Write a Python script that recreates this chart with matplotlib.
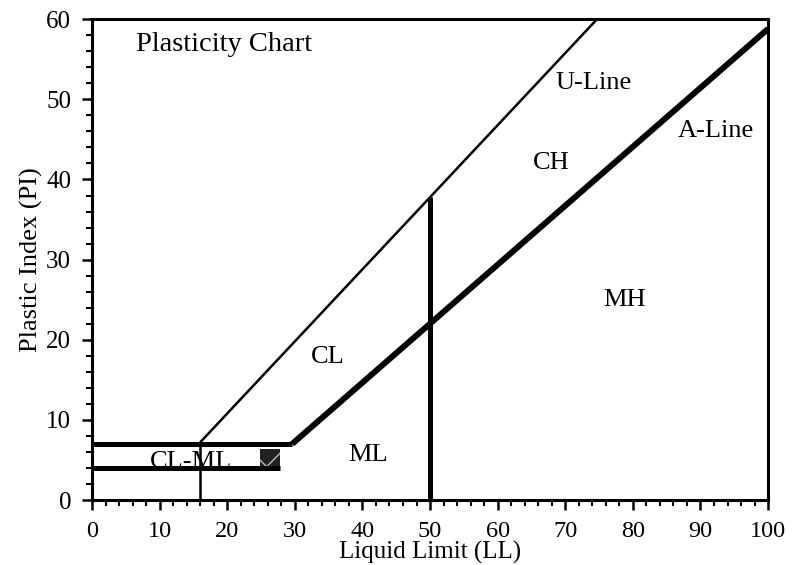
import matplotlib
matplotlib.use("Agg")
import matplotlib.pyplot as plt
import numpy as np

plt.rcParams['font.family'] = ['Liberation Serif', 'DejaVu Serif']

# Line definitions (liquid limit, plasticity index)
a_line_ll = [29.6, 100]
a_line_pi = [7.0, 58.8]
u_line_ll = [16.0, 74.7]
u_line_pi = [7.2, 60.0]
ll50_ll = [50, 50]
ll50_pi = [0, 37.8]
ll16_ll = [16, 16]
ll16_pi = [0, 7.2]
pi7_ll = [0, 29.6]
pi7_pi = [7, 7]
pi4_ll = [0, 27.8]
pi4_pi = [4, 4]
box_ll = [24.8, 27.8]
box_pi = [4.0, 6.4]

region_labels = ["U-Line", "A-Line", "CH", "MH", "CL", "ML", "CL-ML"]
region_x = [74.2, 92.3, 68.0, 78.8, 34.8, 40.8, 14.6]
region_y = [52.0, 46.0, 42.0, 25.0, 17.8, 5.6, 4.8]

fig = plt.figure(figsize=(8.02, 5.65), dpi=100)
ax = fig.add_axes([0.1147, 0.115, 0.843, 0.851])

ax.plot(a_line_ll, a_line_pi, color='black', lw=4.3, solid_capstyle='butt')
ax.plot(u_line_ll, u_line_pi, color='black', lw=1.8, solid_capstyle='butt')
ax.plot(ll50_ll, ll50_pi, color='black', lw=3.6, solid_capstyle='butt')
ax.plot(ll16_ll, ll16_pi, color='black', lw=1.8, solid_capstyle='butt')
ax.plot(pi7_ll, pi7_pi, color='black', lw=3.6, solid_capstyle='butt')
ax.plot(pi4_ll, pi4_pi, color='black', lw=3.6, solid_capstyle='butt')
ax.fill_between(box_ll, box_pi[0], box_pi[1], facecolor='#222222', edgecolor='#bbbbbb',
                hatch='x', lw=0)

for t, x, y in zip(region_labels, region_x, region_y):
    ax.text(x, y, t, fontsize=19, ha='center', va='center')
ax.text(6.5, 56.8, "Plasticity Chart", fontsize=20.5, ha='left', va='center')

ax.set_xlim(0, 100)
ax.set_ylim(0, 60)
ax.set_xticks(np.arange(0, 101, 10))
ax.set_yticks(np.arange(0, 61, 10))
ax.set_xticks(np.arange(0, 101, 2), minor=True)
ax.set_yticks(np.arange(0, 61, 2), minor=True)
ax.tick_params(which='major', length=7, width=1.8, labelsize=18, direction='out')
ax.tick_params(axis='x', which='major', pad=8, labelsize=17.5)
ax.tick_params(axis='y', which='major', pad=8)
ax.tick_params(which='minor', length=4, width=1.5, direction='out')
for s in ax.spines.values():
    s.set_linewidth(2.2)

ax.set_xlabel("Liquid Limit (LL)", fontsize=18, labelpad=-1)
ax.set_ylabel("Plastic Index (PI)", fontsize=19, labelpad=2)

fig.savefig("out.png", dpi=100)
